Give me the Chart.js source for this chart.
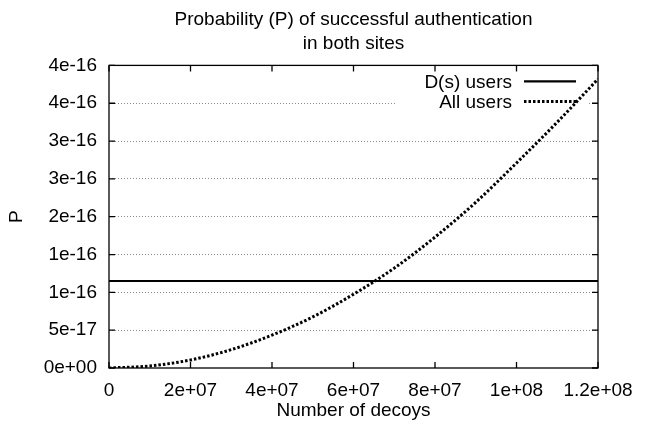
<!DOCTYPE html>
<html>
<head>
<meta charset="utf-8">
<script src="https://cdn.jsdelivr.net/npm/chart.js@4/dist/chart.umd.min.js"></script>
<style>
  html, body { margin: 0; padding: 0; background: #fff; }
  #wrap { width: 650px; height: 426px; }
</style>
</head>
<body>
<div id="wrap"><canvas id="chart"></canvas></div>
<script>
// Data
var decoys = [0, 1e7, 2e7, 3e7, 4e7, 5e7, 6e7, 7e7, 8e7, 9e7, 1e8, 1.1e8, 1.2e8];
var allUsersP = [0, 2.7e-18, 1.06e-17, 2.43e-17, 4.35e-17, 6.75e-17, 9.75e-17, 1.32e-16, 1.73e-16, 2.19e-16, 2.71e-16, 3.25e-16, 3.82e-16];
var dsDecoys = [0, 1.2e8];
var dsUsersP = [1.15e-16, 1.15e-16];

var xTickValues = [0, 2e7, 4e7, 6e7, 8e7, 1e8, 1.2e8];
var xTickLabels = ['0', '2e+07', '4e+07', '6e+07', '8e+07', '1e+08', '1.2e+08'];
var yTickValues = [0, 5e-17, 1e-16, 1.5e-16, 2e-16, 2.5e-16, 3e-16, 3.5e-16, 4e-16];
var yTickLabels = ['0e+00', '5e-17', '1e-16', '1e-16', '2e-16', '3e-16', '3e-16', '4e-16', '4e-16'];

var FONT = "'Liberation Sans', Arial, Helvetica, sans-serif";

function toPoints(xs, ys) {
    return xs.map(function (x, i) { return { x: x, y: ys[i] }; });
}

// white box behind the key (hides grid lines there)
var keyBox = {
    id: 'keyBox',
    beforeDatasetsDraw: function (chart) {
        var a = chart.chartArea, ctx = chart.ctx;
        ctx.save();
        ctx.fillStyle = '#fff';
        ctx.fillRect(a.right - 201, a.top, 191, 47);
        ctx.restore();
    }
};

// border all round with inward ticks, plus the key
var frame = {
    id: 'frame',
    afterDraw: function (chart) {
        var a = chart.chartArea, ctx = chart.ctx;
        var xs = chart.scales.x, ys = chart.scales.y;
        ctx.save();
        ctx.strokeStyle = '#000';
        ctx.lineWidth = 1.3;
        ctx.strokeRect(a.left, a.top, a.right - a.left, a.bottom - a.top);
        ctx.beginPath();
        xTickValues.forEach(function (v) {
            var px = xs.getPixelForValue(v);
            ctx.moveTo(px, a.bottom); ctx.lineTo(px, a.bottom - 6);
            ctx.moveTo(px, a.top); ctx.lineTo(px, a.top + 6);
        });
        yTickValues.forEach(function (v) {
            var py = ys.getPixelForValue(v);
            ctx.moveTo(a.left, py); ctx.lineTo(a.left + 6, py);
            ctx.moveTo(a.right, py); ctx.lineTo(a.right - 6, py);
        });
        ctx.stroke();

        // key
        ctx.font = '19px ' + FONT;
        ctx.textAlign = 'right';
        ctx.textBaseline = 'middle';
        ctx.fillStyle = '#000';
        chart.data.datasets.forEach(function (ds, i) {
            var y = a.top + 16 + i * 20;
            ctx.fillText(ds.label, a.right - 86, y + 1);
            ctx.beginPath();
            ctx.setLineDash(ds.borderDash || []);
            ctx.lineWidth = ds.borderWidth;
            ctx.moveTo(a.right - 74, y);
            ctx.lineTo(a.right - 22, y);
            ctx.stroke();
        });
        ctx.restore();
    }
};

var ctx = document.getElementById('chart').getContext('2d');
new Chart(ctx, {
    type: 'line',
    data: {
        datasets: [{
            label: 'D(s) users',
            data: toPoints(dsDecoys, dsUsersP),
            borderColor: '#000',
            borderWidth: 2.2,
            pointRadius: 0,
            fill: false
        }, {
            label: 'All users',
            data: toPoints(decoys, allUsersP),
            borderColor: '#000',
            borderWidth: 3,
            borderDash: [2.5, 2],
            pointRadius: 0,
            cubicInterpolationMode: 'monotone',
            fill: false
        }]
    },
    options: {
        responsive: true,
        maintainAspectRatio: false,
        animation: false,
        layout: { padding: { left: 0, right: 52, top: 0, bottom: 0 } },
        plugins: {
            legend: { display: false },
            tooltip: { enabled: false },
            title: {
                display: true,
                fullSize: false,
                text: ['Probability (P) of successful authentication', 'in both sites'],
                color: '#000',
                font: { family: FONT, size: 19, weight: 'normal', lineHeight: 1.3 },
                padding: { top: 7, bottom: 9 }
            }
        },
        scales: {
            x: {
                type: 'linear',
                min: 0,
                max: 1.2e8,
                afterBuildTicks: function (scale) {
                    scale.ticks = xTickValues.map(function (v) { return { value: v }; });
                },
                afterFit: function (scale) { scale.height = 58; },
                ticks: {
                    color: '#000',
                    padding: 3,
                    maxRotation: 0,
                    autoSkip: false,
                    font: { family: FONT, size: 19 },
                    callback: function (v, i) { return xTickLabels[i]; }
                },
                grid: { display: false },
                border: { display: false },
                title: {
                    display: true,
                    text: 'Number of decoys',
                    color: '#000',
                    font: { family: FONT, size: 19 },
                    padding: { top: 0, bottom: 4 }
                }
            },
            y: {
                type: 'linear',
                min: 0,
                max: 4e-16,
                afterBuildTicks: function (scale) {
                    scale.ticks = yTickValues.map(function (v) { return { value: v }; });
                },
                afterFit: function (scale) { scale.width = 109; },
                ticks: {
                    color: '#000',
                    padding: 12,
                    autoSkip: false,
                    font: { family: FONT, size: 19 },
                    callback: function (v, i) { return yTickLabels[i]; }
                },
                grid: {
                    drawTicks: false,
                    lineWidth: 1,
                    color: function (c) {
                        if (c.index === 0 || c.index === yTickValues.length - 1) return 'rgba(0,0,0,0)';
                        return '#888';
                    }
                },
                border: { display: false, dash: [1, 2] },
                title: {
                    display: true,
                    text: 'P',
                    color: '#000',
                    font: { family: FONT, size: 19 },
                    padding: { top: 5, bottom: 0 }
                }
            }
        }
    },
    plugins: [keyBox, frame]
});
</script>
</body>
</html>
